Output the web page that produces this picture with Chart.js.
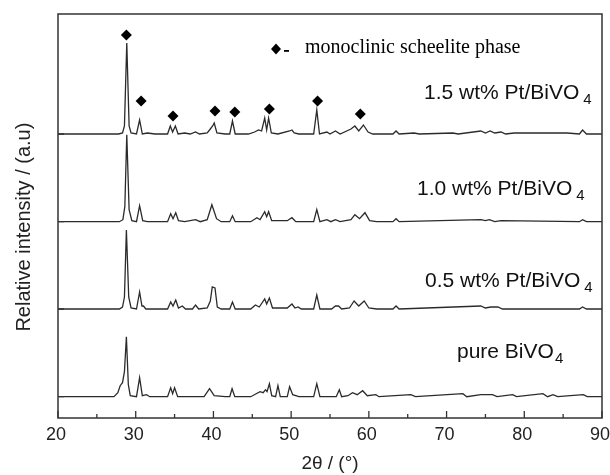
<!DOCTYPE html>
<html>
<head>
<meta charset="utf-8">
<script src="https://cdn.jsdelivr.net/npm/chart.js@4.4.1/dist/chart.umd.min.js"></script>
<style>
  html, body { margin: 0; padding: 0; background: #fff; }
  #wrap { width: 610px; height: 475px; }
</style>
</head>
<body>
<div id="wrap"><canvas id="xrd" width="610" height="475"></canvas></div>
<script>
// 2theta / intensity pairs (intensity above each trace's baseline)
const pt15 = [[20,0],[27.8,0],[28.3,1],[28.55,8],[28.85,91],[29.15,8],[29.4,1],[30.1,0],[30.5,14],[30.85,0],[31.5,1],[32.5,0],
  [34.1,0],[34.45,8],[34.75,2],[35.1,8],[35.45,0],[36.3,1],[37,0],[37.7,2],[38.2,0],[39.2,1],[39.6,5],[39.9,8],[40.1,11],[40.45,1],
  [41.5,0],[42.1,0],[42.45,13],[42.8,0],[44.5,0],[45.3,2],[45.8,4],[46.2,3],[46.6,16],[46.85,4],[47.1,16],[47.45,1],[48.3,0],
  [49.8,3],[50.1,4],[50.4,1],[51,0],[52.9,0],[53.3,24],[53.65,0],[54.6,2],[55,0],[55.7,3],[56.3,0],[57.7,5],[58.2,8],[58.7,3],
  [59.3,9],[59.9,2],[60.5,0],[63.1,0],[63.5,3],[63.9,0],[65.8,1],[66.5,0],[70.8,1],[71.5,0],[74.4,3],[75,1],[75.6,3],[76.2,1],
  [77,2],[77.6,0],[78.7,1],[81.3,1],[83.8,1],[85.5,1],[87.1,0],[87.5,4],[88,0],[90,0]];
const pt10 = [[20,0],[27.9,0],[28.35,2],[28.6,15],[28.85,87],[29.15,12],[29.5,1],[30.1,0],[30.5,16],[30.9,1],[31.5,0],
  [34.1,0],[34.5,8],[34.8,3],[35.15,9],[35.5,1],[36.3,0],[37.7,2],[38.3,0],[39.2,2],[39.8,17],[40.4,3],[41,0],[42.1,0],
  [42.45,6],[42.8,0],[44.8,0],[45.6,4],[46,2],[46.6,10],[46.85,5],[47.1,10],[47.5,1],[49.5,1],[50.1,4],[50.6,0],[52.9,0],
  [53.3,12],[53.7,0],[54.6,2],[55.1,0],[55.7,2],[56.3,0],[57.7,2],[58.2,7],[58.8,3],[59.5,9],[60.1,1],[61,0],[63.1,0],
  [63.5,3],[63.9,0],[74.4,2],[75,1],[75.5,2],[76.2,0],[77,1],[87.1,0],[87.5,2],[88,0],[90,0]];
const pt05 = [[20,0],[27.9,0],[28.3,2],[28.55,12],[28.8,79],[29.1,12],[29.4,1],[30.1,0],[30.5,17],[30.8,3],[31,3],[31.3,0],
  [34.1,0],[34.5,7],[34.8,3],[35.15,9],[35.5,1],[36,3],[36.4,0],[37.3,0],[37.7,4],[38.1,0],[39.2,1],[39.6,8],[39.85,22],
  [40.2,21],[40.5,2],[41,0],[42.1,0],[42.45,7],[42.8,0],[44.8,0],[45.4,4],[45.9,2],[46.6,10],[46.85,5],[47.2,11],[47.6,1],
  [49.5,1],[50.1,5],[50.5,1],[50.9,2],[51.3,0],[52.9,0],[53.3,14],[53.7,0],[55.2,0],[55.7,3],[56.1,3],[56.5,0],[57.5,1],
  [58.1,8],[58.7,3],[59.4,8],[60,1],[61,0],[63.1,0],[63.5,3],[63.9,0],[74.4,3],[75,1],[75.7,2],[76.6,2],[77.2,0],
  [87.1,0],[87.5,2],[88,0],[90,0]];
const ptPure = [[20,0],[27.2,0],[27.7,4],[28.0,11],[28.3,14],[28.55,25],[28.8,60],[29.05,12],[29.3,1],[30.1,0],[30.5,19],
  [30.85,1],[31.4,2],[31.8,0],[34.1,0],[34.5,9],[34.75,3],[35.0,9],[35.4,0],[38.8,0],[39.5,8],[40.1,1],[41.5,0],[42.1,0],
  [42.4,8],[42.75,0],[44.8,0],[45.5,3],[46.0,5],[46.4,4],[46.7,7],[46.9,5],[47.2,13],[47.5,1],[48.0,0],[48.3,11],[48.6,0],
  [49.5,0],[49.8,10],[50.2,2],[51,0],[52.9,0],[53.3,13],[53.7,0],[55.8,0],[56.2,7],[56.5,0],[57.3,1],[57.9,4],[58.5,2],
  [59.2,6],[59.8,1],[60.9,2],[61.3,0],[65.4,2],[66,0],[72.1,3],[72.6,0],[74.4,2],[75.9,2],[76.5,0],[78.5,2],[79,0],
  [82.4,3],[83,0],[83.7,2],[84.3,0],[87.6,2],[88.1,0],[90,0]];

// vertical offsets of each trace (stacked pattern)
const offsets = [284, 196.3, 109, 21.3];
const traces = [pt15, pt10, pt05, ptPure];
const sampleNames = ["1.5 wt% Pt/BiVO", "1.0 wt% Pt/BiVO", "0.5 wt% Pt/BiVO", "pure BiVO"];

// monoclinic scheelite markers over the 1.5 wt% trace
const markTheta = [28.8, 30.7, 34.8, 40.2, 42.75, 47.2, 53.4, 58.9];
const markY = [383, 317, 302, 307, 306, 309, 317, 304];

const xTicks = [20, 30, 40, 50, 60, 70, 80, 90];
const xMinor = [25, 35, 45, 55, 65, 75, 85];

const lineColor = "#2b2b2b";
const sans = '"Liberation Sans", Arial, sans-serif';

const datasets = traces.map((tr, i) => ({
  label: sampleNames[i],
  data: tr.map(p => ({x: p[0], y: p[1] + offsets[i]})),
  borderColor: lineColor,
  borderWidth: 1.3,
  pointRadius: 0,
  tension: 0,
  fill: false
}));
datasets.push({
  label: "markers",
  type: "scatter",
  data: markTheta.map((t, i) => ({x: t, y: markY[i]})),
  pointStyle: "rectRot",
  pointRadius: 5.5,
  backgroundColor: "#000",
  borderColor: "#000",
  borderWidth: 0
});

const decor = {
  id: "decor",
  afterDraw(chart) {
    const {ctx, chartArea: a, scales} = chart;
    const xs = scales.x, ys = scales.y;
    ctx.save();
    ctx.strokeStyle = "#333";
    ctx.lineWidth = 1.5;
    ctx.strokeRect(a.left, a.top, a.right - a.left, a.bottom - a.top);
    // inward ticks
    ctx.lineWidth = 1.3;
    ctx.beginPath();
    xTicks.concat(xMinor).forEach(v => {
      const px = xs.getPixelForValue(v);
      const len = xTicks.includes(v) ? 7 : 4;
      ctx.moveTo(px, a.bottom);
      ctx.lineTo(px, a.bottom - len);
    });
    offsets.forEach(v => {
      const py = ys.getPixelForValue(v);
      ctx.moveTo(a.left, py);
      ctx.lineTo(a.left + 6, py);
    });
    ctx.stroke();

    // legend for the markers
    ctx.fillStyle = "#000";
    ctx.beginPath();
    ctx.moveTo(276, 43.5); ctx.lineTo(281, 49); ctx.lineTo(276, 54.5); ctx.lineTo(271, 49);
    ctx.closePath();
    ctx.fill();
    ctx.fillRect(284, 50, 5, 1.8);
    ctx.font = '20px "Liberation Serif", "Times New Roman", serif';
    ctx.textBaseline = "alphabetic";
    ctx.fillText("monoclinic scheelite phase", 305, 53);

    // sample labels
    const labelPos = [[424, 99, 4], [417, 195, 4], [425, 287, 4], [457, 358, 1]];
    sampleNames.forEach((name, i) => {
      const [lx, ly, gap] = labelPos[i];
      ctx.font = "21px " + sans;
      ctx.fillStyle = "#111";
      ctx.fillText(name, lx, ly);
      const w = ctx.measureText(name).width;
      ctx.font = "15px " + sans;
      ctx.fillText("4", lx + w + gap, ly + 5);
    });
    ctx.restore();
  }
};

new Chart(document.getElementById("xrd"), {
  type: "line",
  data: { datasets },
  options: {
    responsive: false,
    animation: false,
    layout: { padding: { top: 14, right: 8, left: 0, bottom: 0 } },
    plugins: { legend: { display: false }, tooltip: { enabled: false } },
    scales: {
      x: {
        type: "linear",
        min: 20, max: 90,
        grid: { display: false, drawTicks: false },
        border: { display: false },
        afterBuildTicks: s => { s.ticks = xTicks.map(v => ({value: v})); },
        afterFit: s => { s.height = 57; s.paddingLeft = 0; s.paddingRight = 0; },
        ticks: { padding: 6, labelOffset: -2, color: "#222", font: { family: sans, size: 18 } },
        title: {
          display: true, text: "2θ / (°)", color: "#222",
          padding: { top: 0, bottom: 0 },
          font: { family: sans, size: 19 }
        }
      },
      y: {
        min: 0, max: 404,
        grid: { display: false, drawTicks: false },
        border: { display: false },
        ticks: { display: false },
        afterFit: s => { s.width = 58; },
        title: {
          display: true, text: "Relative intensity / (a.u)    ", color: "#222",
          padding: { top: 12, bottom: 0 },
          font: { family: sans, size: 20 }
        }
      }
    }
  },
  plugins: [decor]
});
</script>
</body>
</html>
